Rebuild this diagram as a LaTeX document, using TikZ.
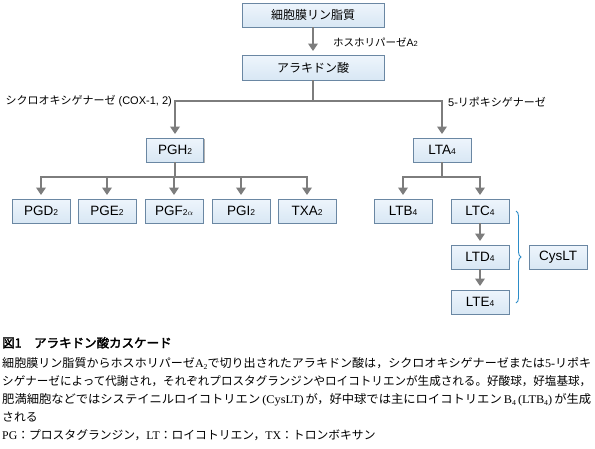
\documentclass[tikz,border=0pt]{standalone}
\usepackage{fontspec}
\setmainfont{Liberation Sans}
\newfontfamily\jp{Noto Sans CJK JP}
\newfontfamily\jpb[AutoFakeBold=2.5]{Noto Sans CJK JP}
\newfontfamily\ser{Liberation Serif}
\usetikzlibrary{arrows.meta,shadows,decorations.pathreplacing}
\definecolor{boxtop}{HTML}{EEF5FC}
\definecolor{boxbot}{HTML}{D8E7F4}
\definecolor{boxline}{HTML}{6A87A3}
\definecolor{arrgray}{HTML}{7D7D7D}
\definecolor{braceblue}{HTML}{2C8CC8}
\newcommand\sbs[1]{{\fontsize{8.5}{9}\selectfont #1}}
\newcommand\lbsub[1]{{\fontsize{7.5}{8}\selectfont #1}}
\newcommand\lsub[1]{\raisebox{-0.35ex}{\fontsize{7.5}{8}\selectfont #1}}
\newcommand\fitline[1]{\resizebox{589pt}{\height}{#1}}
\begin{document}
\begin{tikzpicture}[x=1pt,y=-1pt,
  flowbox/.style={draw=boxline,line width=0.9pt,top color=boxtop,bottom color=boxbot,
    minimum height=24pt,inner sep=0pt,font=\fontsize{13.5}{15}\selectfont,
    general shadow={fill=black!30,shadow xshift=1.3pt,shadow yshift=-1.3pt}},
  wbox/.style={flowbox,minimum width=142pt},
  sbox/.style={flowbox,minimum width=58pt},
  conn/.style={draw=arrgray,line width=2pt},
  arr/.style={conn,-{Triangle[width=9.5pt,length=7.5pt]},shorten >=3.5pt},
  lbl/.style={font=\fontsize{11}{12}\selectfont,inner sep=0pt},
  captxt/.style={font=\jp\fontsize{11.8}{14}\selectfont,inner sep=0pt,anchor=base west},
  bracest/.style={draw=braceblue,line width=0.9pt,decorate,decoration={brace,amplitude=5pt}}]
\useasboundingbox (0,0) rectangle (595,448);

% boxes
\node[wbox] (pl) at (313,15) {\jp\fontsize{12}{14}\selectfont 細胞膜リン脂質};
\node[wbox,minimum height=25pt] (aa) at (313,67.5) {\jp\fontsize{12}{14}\selectfont アラキドン酸};
\node[sbox,minimum width=57pt] (pgh) at (175,150) {PGH\sbs{2}};
\node[sbox] (lta) at (442,150) {LTA\sbs{4}};
\node[sbox] (pgd) at (41,211) {PGD\sbs{2}};
\node[sbox] (pge) at (107,211) {PGE\sbs{2}};
\node[sbox] (pgf) at (174,211) {PGF\sbs{2$\alpha$}};
\node[sbox] (pgi) at (241,211) {PGI\sbs{2}};
\node[sbox] (txa) at (307,211) {TXA\sbs{2}};
\node[sbox] (ltb) at (403,211) {LTB\sbs{4}};
\node[sbox] (ltc) at (480,211) {LTC\sbs{4}};
\node[sbox] (ltd) at (480,257) {LTD\sbs{4}};
\node[sbox] (lte) at (480,302) {LTE\sbs{4}};
\node[sbox] (cys) at (558,257) {CysLT};

% connectors
\draw[arr] (pl.south) -- (aa.north);
\coordinate (j1) at (313,101);
\draw[conn] (aa.south) -- (j1);
\draw[arr] (j1) -| (pgh.north);
\draw[arr] (j1) -| (lta.north);
\coordinate (j2) at (175,177);
\draw[conn] (pgh.south) -- (j2);
\foreach \n in {pgd,pge,pgf,pgi,txa} \draw[arr] (j2) -| (\n.north);
\coordinate (j3) at (442,177);
\draw[conn] (lta.south) -- (j3);
\draw[arr] (j3) -| (ltb.north);
\draw[arr] (j3) -| (ltc.north);
\draw[arr] (ltc.south) -- (ltd.north);
\draw[arr] (ltd.south) -- (lte.north);

% brace
\coordinate (bt) at (516,211);
\coordinate (bb) at (516,303);
\draw[bracest] (bt) -- (bb);

% labels
\node[lbl,anchor=west,font=\fontsize{10.5}{12}\selectfont] (lpla) at (333,42) {{\jp ホスホリパーゼ}A\lbsub{2}};
\node[lbl,anchor=east] (lcox) at (172,101) {{\jp シクロオキシゲナーゼ} (COX-1, 2)};
\node[lbl,anchor=west] (llox) at (448,102.5) {5-{\jp リポキシゲナーゼ}};

% caption
\node[captxt,font=\jpb\bfseries\fontsize{12.5}{14}\selectfont] (title) at (2,347.5) {図1　アラキドン酸カスケード};
\node[captxt] (c1) at (2,367.3) {\fitline{細胞膜リン脂質からホスホリパーゼ{\ser A\lsub{2}}で切り出されたアラキドン酸は，シクロオキシゲナーゼまたは{\ser 5-}リポキ}};
\node[captxt] (c2) at (2,385.3) {\fitline{シゲナーゼによって代謝され，それぞれプロスタグランジンやロイコトリエンが生成される。好酸球，好塩基球，}};
\node[captxt] (c3) at (2,403.3) {\fitline{肥満細胞などではシステイニルロイコトリエン\,{\ser (CysLT)}\,が，好中球では主にロイコトリエン\,{\ser B\lsub{4}\,(LTB\lsub{4})}\,が生成}};
\node[captxt] (c4) at (2,421.3) {される};
\node[captxt] (c5) at (2,439.3) {{\ser PG}：プロスタグランジン，{\ser LT}：ロイコトリエン，{\ser TX}：トロンボキサン};
\end{tikzpicture}
\end{document}
